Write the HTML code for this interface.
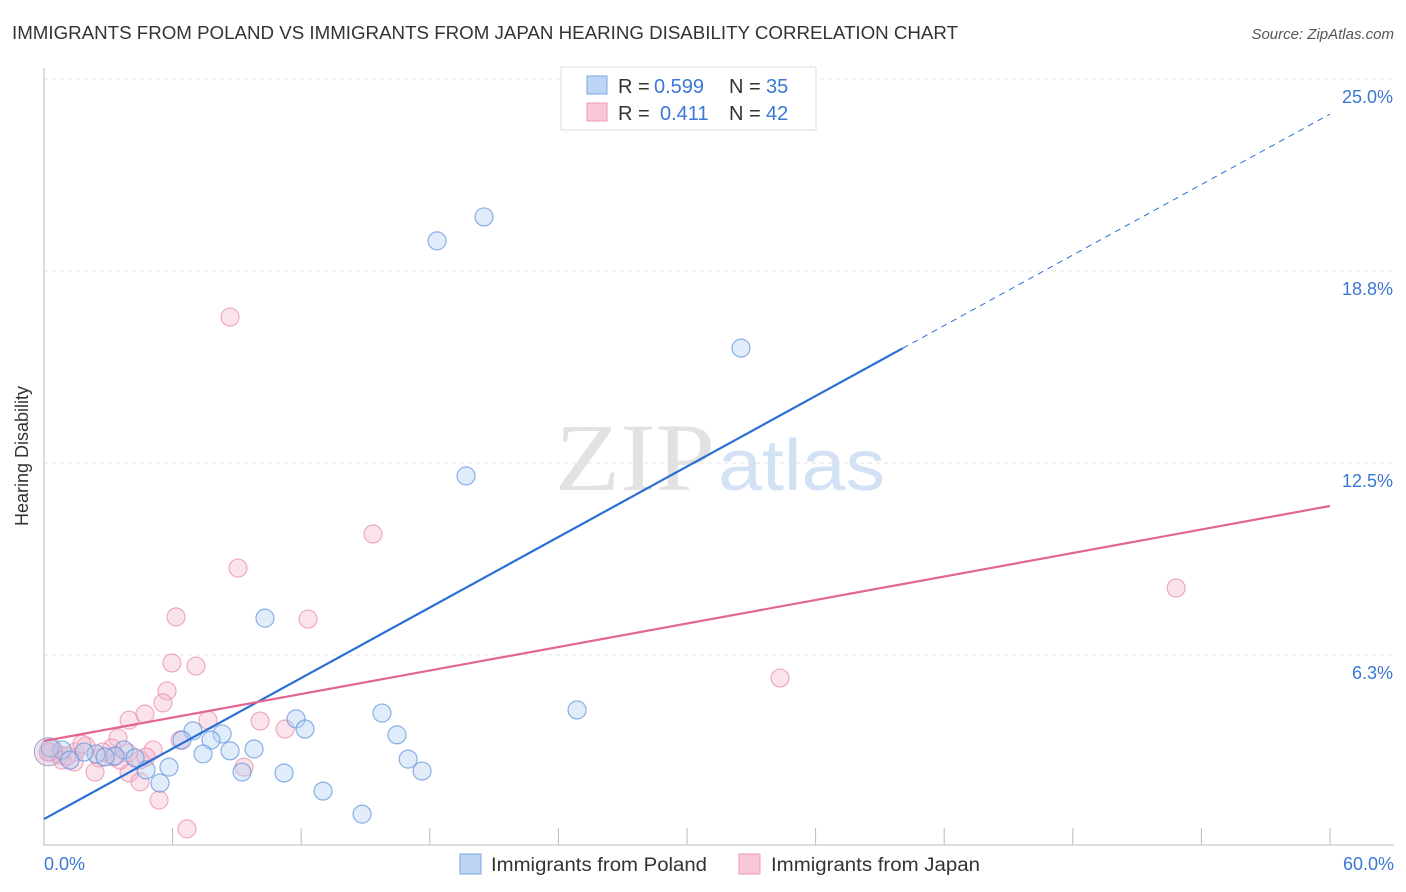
<!DOCTYPE html>
<html><head><meta charset="utf-8"><style>
body{margin:0;background:#fff;font-family:"Liberation Sans",sans-serif;}
svg{display:block}
</style></head><body>
<svg id="c" width="1406" height="892">
<text x="12" y="39" font-size="18" fill="#333" textLength="946" lengthAdjust="spacingAndGlyphs">IMMIGRANTS FROM POLAND VS IMMIGRANTS FROM JAPAN HEARING DISABILITY CORRELATION CHART</text>
<text x="1394" y="39" font-size="15" fill="#555" font-style="italic" text-anchor="end">Source: ZipAtlas.com</text>
<text x="28" y="456" font-size="18" fill="#333" text-anchor="middle" transform="rotate(-90 28 456)">Hearing Disability</text>
<g><text x="555" y="490" font-size="96" fill="#e2e2e2" font-family="Liberation Serif" textLength="160" lengthAdjust="spacingAndGlyphs">ZIP</text><text x="718" y="490" font-size="72" fill="#d3e1f4" textLength="167" lengthAdjust="spacingAndGlyphs">atlas</text></g>
<g id="grid"></g><g id="pts"></g><g id="lines"></g>
<g>
<rect x="561" y="67" width="255" height="63" fill="#fff" stroke="#ddd"/>
<rect x="587" y="76" width="20" height="18" fill="#bcd5f5" stroke="#7aa7e0"/>
<rect x="587" y="103" width="20" height="18" fill="#f9c8d8" stroke="#eb9ab5"/>
<text x="618" y="93" font-size="20" fill="#333">R =</text><text x="654" y="93" font-size="20" fill="#3a78d6">0.599</text>
<text x="729" y="93" font-size="20" fill="#333">N =</text><text x="766" y="93" font-size="20" fill="#3a78d6">35</text>
<text x="618" y="120" font-size="20" fill="#333">R =</text><text x="660" y="120" font-size="20" fill="#3a78d6">0.411</text>
<text x="729" y="120" font-size="20" fill="#333">N =</text><text x="766" y="120" font-size="20" fill="#3a78d6">42</text>
</g>
<g>
<rect x="460" y="854" width="21" height="20" fill="#bcd5f5" stroke="#7aa7e0"/>
<text x="491" y="871" font-size="19" fill="#333" textLength="216" lengthAdjust="spacingAndGlyphs">Immigrants from Poland</text>
<rect x="739" y="854" width="21" height="20" fill="#f9c8d8" stroke="#eb9ab5"/>
<text x="771" y="871" font-size="19" fill="#333" textLength="209" lengthAdjust="spacingAndGlyphs">Immigrants from Japan</text>
</g>
</svg>
<script>
const yTicks=[25,18.75,12.5,6.25];
const yTickLabels=["25.0%","18.8%","12.5%","6.3%"];
const xTickLabels=["0.0%","60.0%"];
const polandX=[18.34,20.53,32.52,19.69,10.31,24.87,15.77,11.76,12.18,16.47,8.31,6.95,6.44,7.79,9.80,8.68,7.42,3.73,4.76,5.83,5.41,9.24,11.20,13.02,14.84,16.99,17.64,3.31,2.43,1.87,0.84,0.28,4.25,2.85,1.21];
const polandY=[19.73,20.51,16.24,12.08,7.45,4.46,4.36,4.17,3.84,3.65,3.68,3.78,3.48,3.48,3.19,3.13,3.03,3.16,2.51,2.60,2.08,2.44,2.41,1.82,1.07,2.86,2.47,2.96,3.03,3.09,3.16,3.22,2.90,2.93,2.83];
const japanX=[8.68,15.35,9.05,6.16,12.32,5.97,7.09,5.74,5.55,34.34,52.82,3.97,4.71,7.65,10.08,11.25,3.45,6.35,5.09,3.92,3.17,2.57,1.96,1.45,0.75,0.28,2.38,1.40,3.97,4.48,5.37,6.67,9.33,4.48,3.22,0.84,1.77,0.19,2.75,1.07,3.55,4.76];
const japanY=[17.25,10.19,9.08,7.49,7.42,5.99,5.89,5.08,4.69,5.50,8.43,4.13,4.33,4.13,4.10,3.84,3.55,3.48,3.16,3.06,3.22,2.90,3.29,3.09,2.99,3.09,2.44,2.77,2.41,2.12,1.53,0.59,2.60,2.83,2.93,2.83,3.35,3.09,3.09,2.96,2.83,2.93];
const polandTrend=[0.91,23.86];
const japanTrend=[3.45,11.1];
const polandSolidEnd=40.07;
const NS="http://www.w3.org/2000/svg";
const X=v=>44+v*1286/60, Y=v=>847-v*30.72;
function mk(t,a,p){const e=document.createElementNS(NS,t);for(const k in a)e.setAttribute(k,a[k]);p.appendChild(e);return e;}
const grid=document.getElementById('grid');
yTicks.forEach((t,i)=>{
 const l=mk('line',{x1:44,x2:1394,y1:Y(t),y2:Y(t),stroke:'#e2e2e2','stroke-dasharray':'4 4'},grid);
 
 
 const tx=mk('text',{x:1393,y:Y(t)+24,'font-size':18,fill:'#3a78d6','text-anchor':'end'},grid);
 tx.textContent=yTickLabels[i];
 
 
});
const ax=mk('path',{d:'M44 68V845H1394',stroke:'#bbb',fill:'none'},grid);


for(let i=1;i<=10;i++){const tk=mk('line',{x1:X(i*6),x2:X(i*6),y1:828,y2:845,stroke:'#bbb'},grid);
 
 }
[[0,'start',44],[60,'end',1394]].forEach((d,i)=>{const tx=mk('text',{x:d[2],y:870,'font-size':18,fill:'#3a78d6','text-anchor':d[1]},grid);tx.textContent=xTickLabels[i];
 
 });
const pts=document.getElementById('pts');
function dots(xs,ys,f,s,n){xs.forEach((x,i)=>{const c=mk('circle',{cx:X(x),cy:Y(ys[i]),r:9,fill:f,'fill-opacity':0.4,stroke:s,'stroke-opacity':0.7,'stroke-width':1.2},pts);
 
 });}
dots(japanX,japanY,'#f6b8cc','#e98aaa','japan-point');
dots(polandX,polandY,'#b5d0f3','#5b92dc','poland-point');
const big=mk('circle',{cx:X(0.2),cy:Y(3.1),r:14,fill:'#c8b8d8','fill-opacity':0.4,stroke:'#a9a0c8'},pts);


const ln=document.getElementById('lines');
const pt=v=>polandTrend[0]+(polandTrend[1]-polandTrend[0])*v/60;
let a=mk('line',{x1:X(0),y1:Y(pt(0)),x2:X(polandSolidEnd),y2:Y(pt(polandSolidEnd)),stroke:'#2a6fd6','stroke-width':2.2},ln);


a=mk('line',{x1:X(polandSolidEnd),y1:Y(pt(polandSolidEnd)),x2:X(60),y2:Y(pt(60)),stroke:'#2a6fd6','stroke-width':1,'stroke-dasharray':'6 5'},ln);


a=mk('line',{x1:X(0),y1:Y(japanTrend[0]),x2:X(60),y2:Y(japanTrend[1]),stroke:'#e36592','stroke-width':2.2},ln);


</script>
</body></html>
